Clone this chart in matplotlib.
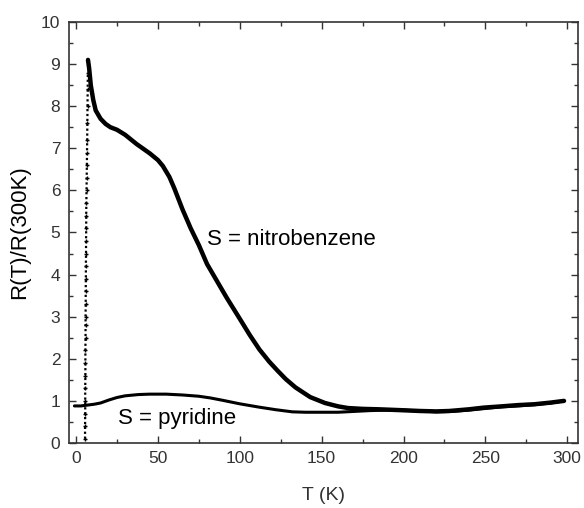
import matplotlib
matplotlib.use('Agg')
import matplotlib.pyplot as plt
from matplotlib.ticker import MultipleLocator

plt.rcParams['font.family'] = ['Liberation Sans', 'DejaVu Sans']

# nitrobenzene: sharp jump at the low-T transition (dotted points)
nb_jump_T = [5.5, 5.5, 5.6, 5.6, 5.6, 5.7, 5.7, 5.7, 5.8, 5.8, 5.8, 5.9, 5.9, 6.0,
             6.0, 6.1, 6.1, 6.2, 6.2, 6.3, 6.4, 6.5, 6.6, 6.7, 6.8, 6.9, 7.0, 7.1, 7.2]
nb_jump_R = [0.1, 0.4, 0.7, 1.0, 1.3, 1.6, 1.9, 2.2, 2.5, 2.8, 3.0, 3.3, 3.6, 3.9,
             4.2, 4.5, 4.8, 5.1, 5.4, 5.7, 6.0, 6.3, 6.6, 6.9, 7.2, 7.6, 8.0, 8.4, 8.8]

# nitrobenzene: main curve
nb_T = [7.3, 8, 9, 10.5, 12, 15, 18, 21, 25, 30, 37, 45, 50, 53, 57, 60, 65, 70,
        75, 80, 86, 92, 100, 106, 112, 118, 123, 128, 134, 143, 152, 160, 166,
        175, 185, 198, 210, 220, 228, 240, 249, 260, 270, 280, 290, 298]
nb_R = [9.1, 8.9, 8.5, 8.15, 7.9, 7.7, 7.58, 7.5, 7.44, 7.32, 7.1, 6.88, 6.72,
        6.58, 6.32, 6.05, 5.55, 5.1, 4.7, 4.25, 3.85, 3.45, 2.95, 2.57, 2.22,
        1.93, 1.72, 1.52, 1.32, 1.09, 0.95, 0.87, 0.83, 0.81, 0.8, 0.78, 0.76,
        0.75, 0.76, 0.8, 0.84, 0.87, 0.9, 0.92, 0.96, 1.0]

# pyridine
py_T = [-1, 3, 7, 11, 15, 20, 25, 30, 38, 45, 55, 65, 75, 82, 90, 100, 112, 122,
        132, 140, 150, 160, 170, 180, 190, 200, 210, 220, 230, 240, 250, 260,
        270, 280, 290, 298]
py_R = [0.88, 0.88, 0.9, 0.92, 0.95, 1.02, 1.08, 1.12, 1.15, 1.16, 1.16, 1.14,
        1.11, 1.07, 1.01, 0.93, 0.85, 0.79, 0.74, 0.73, 0.73, 0.73, 0.75, 0.77,
        0.78, 0.78, 0.76, 0.74, 0.75, 0.78, 0.82, 0.86, 0.88, 0.91, 0.95, 1.0]

fig = plt.figure(figsize=(5.84, 5.08), dpi=100)
ax = fig.add_axes([0.1176, 0.128, 0.872, 0.8287])

ax.plot(py_T, py_R, color='black', lw=2.2, solid_capstyle='round')
ax.plot(nb_jump_T, nb_jump_R, ls=(0, (1, 1.2)), lw=1.6, marker='+', ms=3.5,
        mew=1.0, color='black')
ax.plot(nb_T, nb_R, color='black', lw=3.2, solid_capstyle='round', solid_joinstyle='round')

ax.text(80, 4.7, 'S = nitrobenzene', fontsize=16, color='black')
ax.text(25.5, 0.45, 'S = pyridine', fontsize=16, color='black')

ax.set_xlim(-4.5, 306.5)
ax.set_ylim(0, 10)
ax.xaxis.set_major_locator(MultipleLocator(50))
ax.xaxis.set_minor_locator(MultipleLocator(25))
ax.yaxis.set_major_locator(MultipleLocator(1))
ax.yaxis.set_minor_locator(MultipleLocator(0.5))
ax.tick_params(which='both', direction='in', top=True, right=True,
               colors='#333333', labelsize=12.5, width=1.0)
ax.tick_params(which='major', length=5, pad=6)
ax.tick_params(which='minor', length=3)
for s in ax.spines.values():
    s.set_color('#333333')
    s.set_linewidth(1.2)

ax.set_xlabel('T (K)', fontsize=14, color='#333333', labelpad=15)
ax.set_ylabel('R(T)/R(300K)', fontsize=16, color='black', labelpad=8)

fig.savefig('out.png', dpi=100)
